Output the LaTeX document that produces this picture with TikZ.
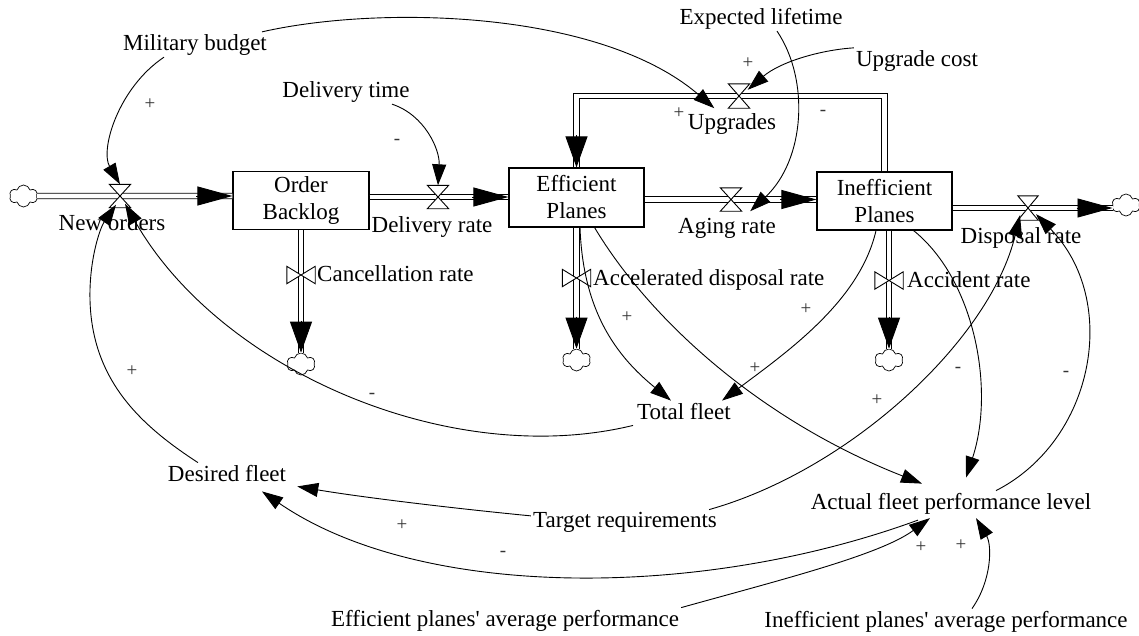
\documentclass[tikz,border=0pt]{standalone}
\usepackage{fontspec}
\setmainfont{Liberation Serif}
\usetikzlibrary{shapes.symbols,arrows.meta,calc}
\newcommand\hvalve[1]{\path[valveline] (#1.north west) -- (#1.north east) -- (#1.south west) -- (#1.south east) -- cycle;}
\newcommand\vvalve[1]{\path[valveline] (#1.north west) -- (#1.south west) -- (#1.north east) -- (#1.south east) -- cycle;}
\begin{document}
\begin{tikzpicture}[x=1pt,y=-1pt,
  every node/.style={font=\fontsize{23}{27}\selectfont, inner sep=2pt},
  stock/.style={draw, line width=1.1pt, fill=white, minimum width=136pt, minimum height=58pt, align=center, inner sep=0pt},
  lbl/.style={anchor=base},
  sgn/.style={font=\fontsize{19}{20}\selectfont, text=black!80, inner sep=0pt},
  pipe/.style={draw, double, double distance=4.6pt, line width=0.9pt, line join=miter},
  ptip/.style={draw, line width=0.9pt, -{Triangle[length=35pt,width=19pt]}},
  vtip/.style={draw, line width=0.9pt, -{Triangle[length=31pt,width=22pt]}},
  link/.style={draw, line width=0.9pt, -{Triangle[length=21pt,width=14pt]}},
  cloudy/.style={cloud, cloud puffs=6, cloud puff arc=150, aspect=1.3, draw, line width=0.7pt, fill=white, minimum width=28pt, minimum height=22pt, inner sep=0pt},
  valvebox/.style={rectangle, inner sep=0pt, minimum width=21pt, minimum height=23pt},
  vvalvebox/.style={rectangle, inner sep=0pt, minimum width=28pt, minimum height=17pt},
  valveline/.style={draw, line width=0.9pt, fill=white, line join=miter}
]
\useasboundingbox[fill=white] (0,0) rectangle (1139,635);

% stocks
\node[stock] (ob) at (301,200.5) {Order\\Backlog};
\node[stock, minimum width=135pt, minimum height=59pt] (ep) at (576.5,197.5) {Efficient\\Planes};
\node[stock, minimum width=135pt] (ip) at (884.5,201) {Inefficient\\Planes};

% valves (positions)
\node[valvebox] (vNO) at (120,196) {};
\node[valvebox] (vDR) at (438,197) {};
\node[valvebox] (vAG) at (731,199.5) {};
\node[valvebox, minimum height=24pt] (vUP) at (739,96) {};
\node[valvebox, minimum width=20pt, minimum height=24pt] (vDP) at (1028,208) {};
\node[vvalvebox] (vCR) at (301,275) {};
\node[vvalvebox] (vAD) at (576.5,278) {};
\node[vvalvebox] (vAR) at (889,280.5) {};

% clouds
\node[cloudy] (cL) at (23.5,196) {};
\node[cloudy] (cR) at (1126,205) {};
\node[cloudy] (cC) at (301,364) {};
\node[cloudy] (cA) at (576.5,360) {};
\node[cloudy] (cAc) at (889,360) {};

% pipes
\path[pipe] (cL) -- (ob.west |- vNO);
\path[pipe] (ob.east |- vDR) -- (ep.west |- vDR);
\path[pipe] (ep.east |- vAG) -- (ip.west |- vAG);
\path[pipe] (ip.east |- vDP) -- (cR.west |- vDP);
\path[pipe] (ip.north) |- (vUP.center) -| (ep.north);
\path[pipe] (ob.south) -- (cC.north);
\path[pipe] (ep.south) -- (cA.north);
\path[pipe] (ip.south -| vAR) -- (cAc.north);

\path[ptip] ($(ob.west |- vNO)+(-36,0)$) -- (ob.west |- vNO);
\path[ptip] ($(ep.west |- vDR)+(-36,0)$) -- (ep.west |- vDR);
\path[ptip] ($(ip.west |- vAG)+(-36,0)$) -- (ip.west |- vAG);
\path[ptip] ($(cR.west |- vDP)+(-36,0)$) -- (cR.west |- vDP);
\path[vtip] ($(ep.north)+(0,-32)$) -- (ep.north);
\path[vtip] ($(cC.north)+(0,-32)$) -- (cC.north);
\path[vtip] ($(cA.north)+(0,-32)$) -- (cA.north);
\path[vtip] ($(cAc.north)+(0,-32)$) -- (cAc.north);

\hvalve{vNO}\hvalve{vDR}\hvalve{vAG}\hvalve{vUP}\hvalve{vDP}
\vvalve{vCR}\vvalve{vAD}\vvalve{vAR}

% labels
\node[lbl] (mb) at (195,50) {Military budget};
\node[lbl] (dt) at (346,97) {Delivery time};
\node[lbl] (el) at (761,24) {Expected lifetime};
\node[lbl] (uc) at (917,66) {Upgrade cost};
\node[lbl] (lUP) at (732,129) {Upgrades};
\node[lbl] (lNO) at (112,230) {New orders};
\node[lbl] (lDR) at (432,232) {Delivery rate};
\node[lbl, anchor=base west] (lCR) at (315,281) {Cancellation rate};
\node[lbl] (lAG) at (727,233) {Aging rate};
\node[lbl, anchor=base west] (lAD) at (591,285) {Accelerated disposal rate};
\node[lbl] (lDP) at (1021,243) {Disposal rate};
\node[lbl, anchor=base west] (lAR) at (905,287) {Accident rate};
\node[lbl] (tf) at (684,419) {Total fleet};
\node[lbl] (df) at (227,481) {Desired fleet};
\node[lbl] (tr) at (625,527) {Target requirements};
\node[lbl] (af) at (951,509) {Actual fleet performance level};
\node[lbl] (epp) at (505,626) {Efficient planes\textquotesingle{} average performance};
\node[lbl] (ipp) at (946,627) {Inefficient planes\textquotesingle{} average performance};

% links
\path[link] ([xshift=-31pt]mb.south) .. controls (118,88) and (100,150) .. (vNO.north);
\path[link] ([xshift=-7pt]mb.north east) .. controls (380,5) and (600,10) .. ([xshift=-14pt]vUP.south west);
\path[link] (uc.north west) .. controls (820,50) and (780,62) .. ([xshift=-2pt,yshift=-6pt]vUP.north east);
\path[link] ([xshift=46pt]dt.south) .. controls (425,115) and (440,150) .. (vDR.north);
\path[link] ([xshift=16pt]el.south) .. controls (810,80) and (805,160) .. ([xshift=8.5pt]vAG.south east);
\path[link] ([xshift=3.5pt]ep.south) .. controls (583,310) and (615,355) .. ([xshift=-13pt]tf.north);
\path[link] ([xshift=-8.5pt]ip.south) .. controls (860,300) and (790,350) .. ([xshift=38pt]tf.north);
\path[link] ([xshift=-2pt,yshift=-4pt]tf.south west) .. controls (450,470) and (220,370) .. ([xshift=5pt,yshift=4pt]vNO.south);
\path[link] ([xshift=-29pt]df.north) .. controls (140,425) and (92,380) .. (90,300) .. controls (89,260) and (100,228) .. ([xshift=-4pt,yshift=3pt]vNO.south);
\path[link] ([yshift=6pt]tr.west) .. controls (450,508) and (360,497) .. ([xshift=9pt,yshift=-3pt]df.south east);
\path[link] ([xshift=-10pt]tr.north east) .. controls (850,470) and (990,340) .. ([xshift=-8pt,yshift=5pt]vDP.south);
\path[link] ([xshift=45pt]af.north) .. controls (1095,440) and (1120,300) .. ([xshift=8pt,yshift=6pt]vDP.south);
\path[link] ([xshift=-39pt]ip.south east) .. controls (975,280) and (995,390) .. ([xshift=15pt,yshift=13pt]af.north);
\path[link] ([xshift=-50pt]ep.south east) .. controls (650,320) and (760,420) .. ([xshift=-29pt,yshift=7pt]af.north);
\path[link] (epp.north east) .. controls (780,580) and (880,555) .. ([xshift=-21pt,yshift=-2pt]af.south);
\path[link] ([xshift=-33pt,yshift=-4pt]af.south) .. controls (700,600) and (420,600) .. ([xshift=35pt,yshift=-8pt]df.south);
\path[link] ([xshift=26pt]ipp.north) .. controls (992,580) and (992,545) .. ([xshift=25pt,yshift=-2pt]af.south);

% polarity signs
\node[sgn] (s1) at (150,104) {+};
\node[sgn] (s2) at (679,113) {+};
\node[sgn] (s3) at (748,63) {+};
\node[sgn] (s4) at (823,113) {-};
\node[sgn] (s5) at (397,142) {-};
\node[sgn] (s6) at (627,317) {+};
\node[sgn] (s7) at (806,309) {+};
\node[sgn] (s8) at (755,368) {+};
\node[sgn] (s9) at (372,396) {-};
\node[sgn] (s10) at (132,371) {+};
\node[sgn] (s11) at (958,370) {-};
\node[sgn] (s12) at (1066,374) {-};
\node[sgn] (s13) at (877,400) {+};
\node[sgn] (s14) at (402,525) {+};
\node[sgn] (s15) at (503,554) {-};
\node[sgn] (s16) at (921,547) {+};
\node[sgn] (s17) at (961,545) {+};
\end{tikzpicture}
\end{document}
